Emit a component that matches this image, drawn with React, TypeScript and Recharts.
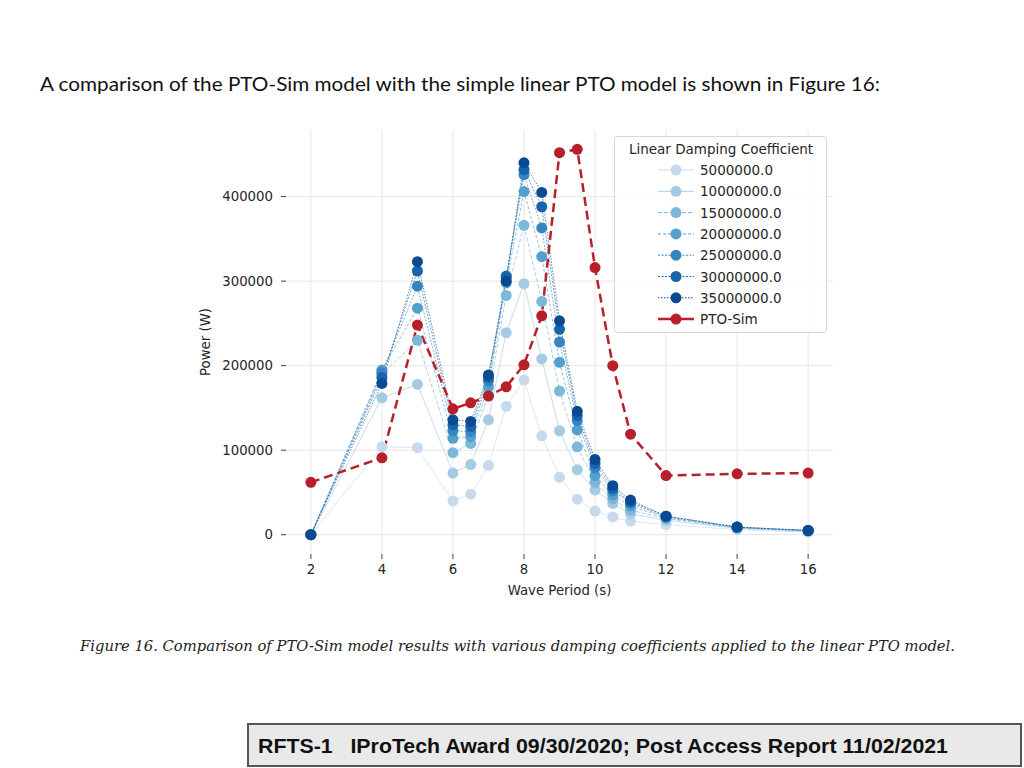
import {
  Line,
  LineChart,
  ReferenceLine,
  XAxis,
  YAxis,
} from "recharts";

// wave periods (s)
const periods = [2, 4, 5, 6, 6.5, 7, 7.5, 8, 8.5, 9, 9.5, 10, 10.5, 11, 12, 14, 16];

// power (W) per linear damping coefficient
const damp5M = [0, 104000, 103000, 40000, 48000, 82000, 152000, 183000, 117000, 68000, 42000, 28000, 21000, 16000, 12000, 6000, 3000];
const damp10M = [0, 162000, 178000, 73000, 83000, 136000, 239000, 297000, 208000, 123000, 77000, 53000, 37000, 25000, 17000, 7500, 4000];
const damp15M = [0, 190000, 230000, 97000, 108000, 165000, 283000, 366000, 276000, 170000, 104000, 62000, 42000, 29000, 19000, 8000, 4500];
const damp20M = [0, 195000, 268000, 114000, 116000, 175000, 298000, 406000, 329000, 204000, 124000, 70000, 47000, 34000, 20000, 8500, 4800];
const damp25M = [0, 192000, 294000, 123000, 122000, 182000, 304000, 426000, 363000, 228000, 135000, 79000, 52000, 37000, 21000, 9000, 5000];
const damp30M = [0, 186000, 312000, 130000, 128000, 186000, 306000, 432000, 388000, 243000, 141000, 84000, 55000, 39000, 22000, 9000, 5000];
const damp35M = [0, 179000, 323000, 136000, 134000, 189000, 300000, 440000, 405000, 253000, 146000, 89000, 58000, 41000, 22000, 9000, 5000];
const ptoSim = [62000, 91000, 248000, 149000, 156000, 164000, 175000, 201000, 259000, 452000, 456000, 316000, 200000, 119000, 70000, 72000, 73000];

const xTicks = [2, 4, 6, 8, 10, 12, 14, 16];
const yTicks = [0, 100000, 200000, 300000, 400000];

const blueSeries = [
  { key: "d5", label: "5000000.0", values: damp5M, color: "#c9d9ec", dash: undefined },
  { key: "d10", label: "10000000.0", values: damp10M, color: "#a5cbe1", dash: undefined },
  { key: "d15", label: "15000000.0", values: damp15M, color: "#7db8da", dash: "4 2" },
  { key: "d20", label: "20000000.0", values: damp20M, color: "#559fcd", dash: "3 2" },
  { key: "d25", label: "25000000.0", values: damp25M, color: "#3585bf", dash: "2 1.5" },
  { key: "d30", label: "30000000.0", values: damp30M, color: "#1764ab", dash: "2 1.5" },
  { key: "d35", label: "35000000.0", values: damp35M, color: "#0a4a91", dash: "1.5 1.5" },
];

const PTO_COLOR = "#b71f2a";
const GRID = "#e6e6e6";

const data = periods.map((p, i) => {
  const row: Record<string, number> = { period: p, pto: ptoSim[i] };
  blueSeries.forEach((s) => (row[s.key] = s.values[i]));
  return row;
});

const chartFont = "'DejaVu Sans', sans-serif";
const tickStyle = { fontSize: 13.3, fill: "#262626", fontFamily: chartFont };

function LegendBox() {
  const rowY = (i: number) => 34 + i * 21.3;
  return (
    <svg
      width={214}
      height={198}
      style={{ position: "absolute", left: 614, top: 136, fontFamily: chartFont }}
    >
      <rect x={0.5} y={0.5} width={212} height={196} rx={3} fill="#fff" fillOpacity={0.85} stroke="#d6d6d6" />
      <text x={107} y={18} textAnchor="middle" fontSize={13.5} fill="#262626">
        Linear Damping Coefficient
      </text>
      {blueSeries.map((s, i) => (
        <g key={s.key}>
          <line x1={44} x2={80} y1={rowY(i)} y2={rowY(i)} stroke={s.color} strokeWidth={1} strokeDasharray={s.dash} />
          <circle cx={62} cy={rowY(i)} r={5.5} fill={s.color} />
          <text x={86} y={rowY(i) + 5} fontSize={13.5} fill="#262626">
            {s.label}
          </text>
        </g>
      ))}
      <line x1={44} x2={80} y1={rowY(7)} y2={rowY(7)} stroke={PTO_COLOR} strokeWidth={2.5} />
      <circle cx={62} cy={rowY(7)} r={5.5} fill={PTO_COLOR} />
      <text x={86} y={rowY(7) + 5} fontSize={13.5} fill="#262626">
        PTO-Sim
      </text>
    </svg>
  );
}

export default function App() {
  return (
    <div style={{ position: "absolute", left: 0, top: 0, width: 1024, height: 768, background: "#fff" }}>
      <svg width={1024} height={768} style={{ position: "absolute", left: 0, top: 0 }}>
        <text
          x={40}
          y={91}
          fontSize={19}
          fontFamily="Lato, 'Open Sans', sans-serif"
          fill="#111"
          textLength={840}
          lengthAdjust="spacingAndGlyphs"
        >
          A comparison of the PTO-Sim model with the simple linear PTO model is shown in Figure 16:
        </text>
        <text
          x={80}
          y={651}
          fontSize={14.5}
          fontStyle="italic"
          fontFamily="'DejaVu Serif', serif"
          fill="#222"
          textLength={875}
          lengthAdjust="spacingAndGlyphs"
        >
          Figure 16. Comparison of PTO-Sim model results with various damping coefficients applied to the linear PTO model.
        </text>
        <rect x={248} y={724} width={773} height={42} fill="#e9e9e9" stroke="#555" strokeWidth={2} />
        <text
          x={258}
          y={753}
          fontSize={20}
          fontWeight="bold"
          fontFamily="'Liberation Sans Narrow', 'Liberation Sans', sans-serif"
          fill="#111"
          textLength={690}
          lengthAdjust="spacingAndGlyphs"
          xmlSpace="preserve"
        >
          RFTS-1   IProTech Award 09/30/2020; Post Access Report 11/02/2021
        </text>
      </svg>

      <div style={{ position: "absolute", left: 0, top: 0 }}>
        <LineChart
          width={1024}
          height={768}
          data={data}
          margin={{ top: 130, right: 191, bottom: 169, left: 180 }}
        >
          <XAxis
            dataKey="period"
            type="number"
            domain={[1.3, 16.7]}
            ticks={xTicks}
            axisLine={false}
            tickLine={{ stroke: "#444" }}
            tickSize={5}
            tickMargin={6}
            tick={tickStyle}
            height={45}
            label={{
              value: "Wave Period (s)",
              position: "insideBottom",
              offset: 4,
              style: { fontSize: 13.3, fill: "#262626", fontFamily: chartFont },
            }}
          />
          <YAxis
            type="number"
            domain={[-22800, 478800]}
            ticks={yTicks}
            axisLine={false}
            tickLine={{ stroke: "#444" }}
            tickSize={5}
            tickMargin={8}
            tick={tickStyle}
            width={106}
            label={{
              value: "Power (W)",
              angle: -90,
              position: "insideLeft",
              offset: 25,
              style: { fontSize: 13.3, fill: "#262626", fontFamily: chartFont, textAnchor: "middle" },
            }}
          />
          {xTicks.map((t) => (
            <ReferenceLine key={`gx${t}`} x={t} stroke={GRID} strokeWidth={1} />
          ))}
          {yTicks.map((t) => (
            <ReferenceLine key={`gy${t}`} y={t} stroke={GRID} strokeWidth={1} />
          ))}
          {blueSeries.map((s) => (
            <Line
              key={s.key}
              type="linear"
              dataKey={s.key}
              stroke={s.color}
              strokeWidth={1}
              strokeOpacity={0.65}
              strokeDasharray={s.dash}
              dot={{ r: 5.5, fill: s.color, stroke: "none", strokeDasharray: "0" }}
              activeDot={false}
              isAnimationActive={false}
            />
          ))}
          <Line
            type="linear"
            dataKey="pto"
            stroke={PTO_COLOR}
            strokeWidth={2.5}
            strokeDasharray="9 5"
            dot={{ r: 5.5, fill: PTO_COLOR, stroke: "none", strokeDasharray: "0" }}
            activeDot={false}
            isAnimationActive={false}
          />
        </LineChart>
      </div>

      <LegendBox />
    </div>
  );
}
